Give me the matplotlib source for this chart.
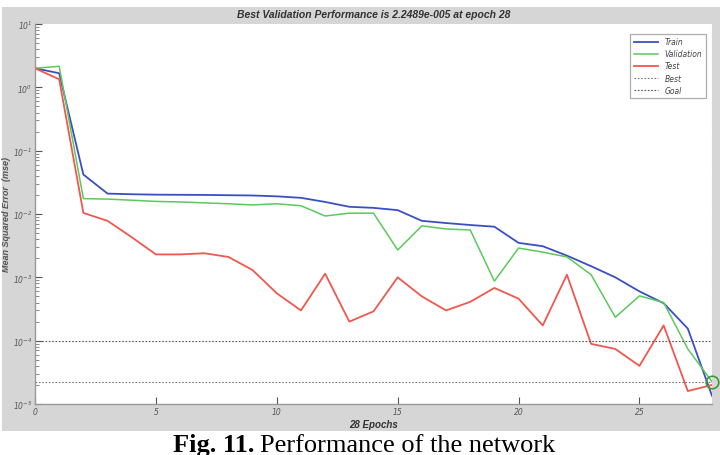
import numpy as np
import matplotlib.pyplot as plt
from matplotlib.patches import Rectangle

epochs = np.arange(0, 29)

train = [2.0, 1.67, 0.042, 0.021, 0.0205, 0.0202, 0.0201, 0.0200, 0.0198, 0.0196,
         0.019, 0.018, 0.0155, 0.013, 0.0125, 0.0115, 0.0078, 0.0072, 0.0067, 0.0063,
         0.0035, 0.0031, 0.0022, 0.0015, 0.001, 0.0006, 0.00039, 0.000155, 1.35e-5]
validation = [2.0, 2.15, 0.0175, 0.0172, 0.0165, 0.0158, 0.0155, 0.0150, 0.0145, 0.0139,
              0.0145, 0.0135, 0.0093, 0.0103, 0.0103, 0.0027, 0.0065, 0.0058, 0.0056, 0.00087,
              0.0029, 0.0025, 0.0021, 0.0011, 0.000234, 0.00051, 0.0004, 7.4e-5, 2.2489e-5]
test = [2.0, 1.34, 0.0104, 0.0078, 0.0043, 0.0023, 0.0023, 0.0024, 0.0021, 0.0013,
        0.00056, 0.0003, 0.00114, 0.0002, 0.00029, 0.001, 0.0005, 0.0003, 0.00041, 0.00068,
        0.00046, 0.000174, 0.0011, 8.9e-5, 7.4e-5, 4e-5, 0.000174, 1.6e-5, 2e-5]

best_epoch = 28
best_perf = 2.2489e-5
goal = 1e-4

fig = plt.figure(figsize=(7.2, 4.56), dpi=100)
fig.patch.set_facecolor("white")
# grey MATLAB figure panel
fig.add_artist(Rectangle((2 / 720, 1 - 432 / 456), 718 / 720, 424 / 456,
                         transform=fig.transFigure, facecolor="#d6d6d6",
                         edgecolor="none", zorder=0))

ax = fig.add_axes([35 / 720, 1 - 405 / 456, 677 / 720, 380 / 456])
ax.set_facecolor("white")
ax.set_yscale("log")

ax.plot(epochs, train, color="#3b4fc4", lw=1.3, label="Train")
ax.plot(epochs, validation, color="#5cc95c", lw=1.1, label="Validation")
ax.plot(epochs, test, color="#f0574e", lw=1.3, label="Test")
ax.axhline(best_perf, color="#777777", ls=(0, (1.5, 1.5)), lw=0.8, label="Best")
ax.axvline(best_epoch, color="#999999", ls=(0, (1.5, 1.5)), lw=0.8)
ax.axhline(goal, color="#555555", ls=(0, (1.5, 1.5)), lw=0.8, label="Goal")
ax.plot([best_epoch], [best_perf], "o", ms=9, mfc="none", mec="#3a9a3a", mew=1.2,
        clip_on=False)

ax.set_xlim(0, 28)
ax.set_ylim(1e-5, 1e1)
ax.set_xticks([0, 5, 10, 15, 20, 25])
ax.tick_params(axis="both", direction="in", labelsize=5.5, colors="#555555",
               length=5, pad=2)
ax.tick_params(axis="y", which="minor", direction="in", length=3, colors="#777777")
for lab in ax.get_xticklabels() + ax.get_yticklabels():
    lab.set_style("italic")

for s in ["top", "right"]:
    ax.spines[s].set_visible(False)
for s in ["left", "bottom"]:
    ax.spines[s].set_color("#999999")
    ax.spines[s].set_linewidth(1.0)

ax.set_title("Best Validation Performance is 2.2489e-005 at epoch 28",
             fontsize=7.5, fontweight="bold", style="italic", color="#333333",
             family="Liberation Sans", pad=5)
ax.set_xlabel("28 Epochs", fontsize=7, fontweight="bold", style="italic",
              color="#333333", family="Liberation Sans", labelpad=2)
ax.set_ylabel("Mean Squared Error  (mse)", fontsize=6.5, fontweight="bold",
              style="italic", color="#555555", family="Liberation Sans", labelpad=1)

leg = ax.legend(loc="upper right", fontsize=5.5, frameon=True, fancybox=False,
                edgecolor="#999999", handlelength=3.2, borderpad=0.5,
                labelspacing=0.4, bbox_to_anchor=(0.997, 0.985))
leg.get_frame().set_linewidth(0.9)
for t in leg.get_texts():
    t.set_style("italic")
    t.set_color("#444444")

# caption below the grey panel
fig.text(254 / 720, 3.5 / 456, "Fig. 11.", fontsize=19, fontweight="bold",
         family="Liberation Serif", ha="right", va="baseline")
fig.text(260 / 720, 3.5 / 456, "Performance of the network", fontsize=19,
         family="Liberation Serif", ha="left", va="baseline")

fig.savefig("out.png", dpi=100)
